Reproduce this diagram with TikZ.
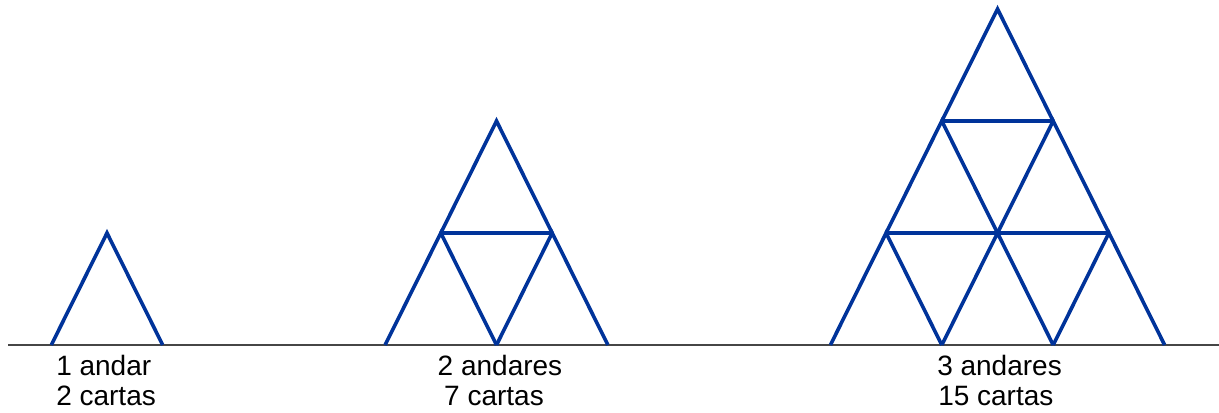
\documentclass[tikz,border=0pt]{standalone}
\usepackage{fontspec}
\setmainfont{Liberation Sans}
\usetikzlibrary{positioning}
\definecolor{cardblue}{RGB}{0,51,154}
\definecolor{groundgray}{RGB}{70,70,70}

%% card tower: #1 = apex x, #2 = number of rows
\newcommand{\cardtower}[2]{%
  \foreach \r in {0,...,\numexpr#2-1\relax}{%
    \pgfmathtruncatemacro{\last}{#2-\r-1}
    \foreach \i in {0,...,\last}{%
      \draw[card] ({#1+(2*\i-(#2-\r))*\cw},{\gy+\r*\ch})
                -- ({#1+(2*\i+1-(#2-\r))*\cw},{\gy+(\r+1)*\ch})
                -- ({#1+(2*\i+2-(#2-\r))*\cw},{\gy+\r*\ch});
    }
    \ifnum\r>0
      \draw[card] ({#1-(#2-\r)*\cw},{\gy+\r*\ch}) -- ({#1+(#2-\r)*\cw},{\gy+\r*\ch});
    \fi
  }%
}

\begin{document}
\begin{tikzpicture}[
  x=0.75pt, y=0.75pt,
  card/.style={draw=cardblue, line width=2.7pt, line join=miter},
  ground/.style={draw=groundgray, line width=1.5pt},
  lbl/.style={font=\fontsize{21}{24}\selectfont, inner sep=0pt},
]
\useasboundingbox (0,0) rectangle (1219,412);
\def\gy{67}
\def\cw{55.7}
\def\ch{112}

%% ---- ground ----
\coordinate (gl) at (8,\gy);
\coordinate (gr) at (1219,\gy);
\draw[ground] (gl) -- (gr);

%% ---- towers ----
\cardtower{107}{1}
\cardtower{496.5}{2}
\cardtower{997.5}{3}

%% ---- labels ----
\node[lbl, anchor=base west] (andar1) at (56,37) {1 andar};
\node[lbl, anchor=base west] (cartas1) at (56,7) {2 cartas};

\node[lbl, anchor=base] (andar2) at (500,37) {2 andares};
\node[lbl, anchor=base] (cartas2) at (494,7) {7 cartas};

\node[lbl, anchor=base west] (andar3) at (937,37) {3 andares};
\node[lbl, anchor=base west] (cartas3) at (938,7) {15 cartas};

\end{tikzpicture}
\end{document}
